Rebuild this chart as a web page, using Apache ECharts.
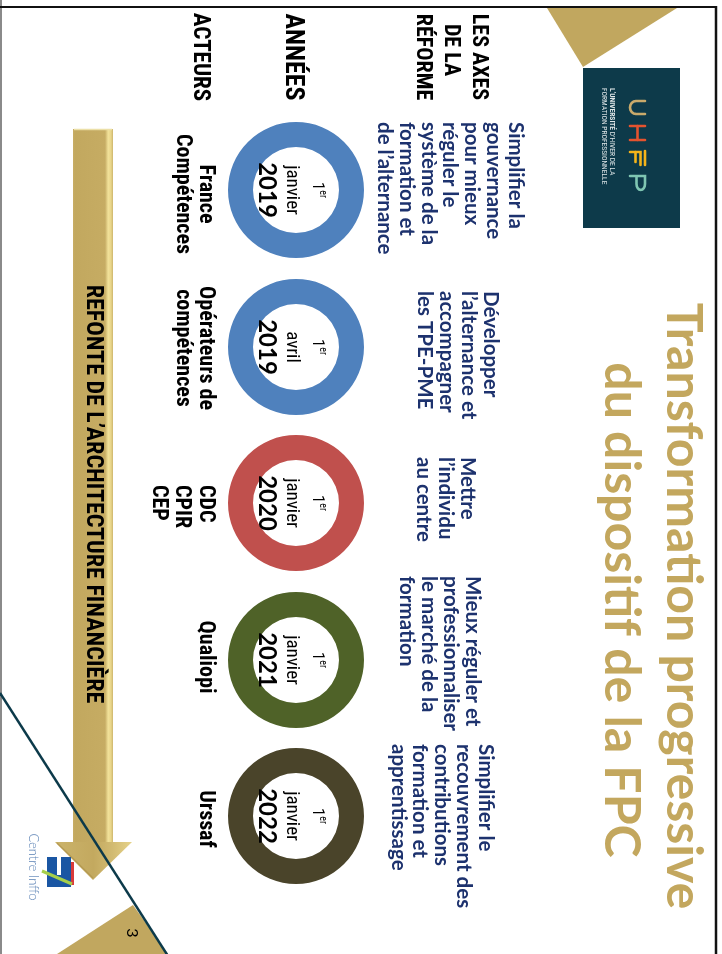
<!DOCTYPE html>
<html>
<head>
<meta charset="utf-8">
<script src="https://cdn.jsdelivr.net/npm/echarts@6/dist/echarts.min.js"></script>
<style>
html,body{margin:0;padding:0;background:#fff;}
#c{width:722px;height:954px;}
</style>
</head>
<body>
<div id="c"></div>
<script>
// ---- data ----
const rowHeaders = ['LES AXES\nDE LA\nRÉFORME', 'ANNÉES', 'ACTEURS'];
const axesTexts = [
  'Simplifier la\ngouvernance\npour mieux\nréguler le\nsystème de la\nformation et\nde l\u2019alternance',
  'Développer\nl\u2019alternance et\naccompagner\nles TPE-PME',
  'Mettre\nl\u2019individu\nau centre',
  'Mieux réguler et\nprofessionnaliser\nle marché de la\nformation',
  'Simplifier le\nrecouvrement des\ncontributions\nformation et\napprentissage'
];
const dayOrdinal = ['1', '1', '1', '1', '1'];
const months = ['janvier', 'avril', 'janvier', 'janvier', 'janvier'];
const years = ['2019', '2019', '2020', '2021', '2022'];
const ringValues = [100, 100, 100, 100, 100];
const actors = ['France\nCompétences', 'Opérateurs de\ncompétences', 'CDC\nCPIR\nCEP', 'Qualiopi', 'Urssaf'];
const titleLines = ['Transformation progressive', 'du dispositif de la FPC'];
const arrowText = 'REFONTE DE L\u2019ARCHITECTURE FINANCIÈRE';
const pageNumber = '3';

// ---- layout / style ----
const ringColors = ['#4f81bd', '#4f81bd', '#c0504d', '#4f6228', '#4a442a'];
const ringCx = 296;
const ringCy = [190, 347, 503, 660, 816];
const axesPos = [[526, 122], [501, 291], [478, 457], [483, 576], [496, 744]];
const actorPos = [[194, 194, 'center'], [194, 348, 'center'], [217, 485, 'left'], [205, 657, 'center'], [205, 819, 'center']];
const NAVY = '#1d326e';
const GOLD = '#c3a75e';
const COND = '"Liberation Sans Narrow", "Roboto Condensed", Lato, sans-serif';
const R = -Math.PI / 2;

function vtext(x, y, text, st, extra) {
  const style = Object.assign({
    text: text,
    fontFamily: 'Lato, sans-serif',
    fill: '#000'
  }, st);
  style.align = style.textAlign; style.verticalAlign = style.textVerticalAlign;
  return Object.assign({ type: 'text', x: x, y: y, rotation: R, silent: true, style: style, z: 10 }, extra || {});
}
function pl(points, color) {
  return { type: 'polyline', shape: { points: points }, style: { stroke: color, lineWidth: 2.6, fill: null, lineCap: 'round' }, silent: true };
}

const graphics = [];
// slide frame
graphics.push({ type: 'line', shape: { x1: 1, y1: 0, x2: 1, y2: 954 }, style: { stroke: '#8a8a8a', lineWidth: 2 }, silent: true });
graphics.push({ type: 'line', shape: { x1: 0, y1: 7, x2: 717, y2: 7 }, style: { stroke: '#111', lineWidth: 2 }, silent: true });
graphics.push({ type: 'line', shape: { x1: 716, y1: 6, x2: 716, y2: 954 }, style: { stroke: '#111', lineWidth: 2.5 }, silent: true });

// top-right gold triangle
graphics.push({ type: 'polygon', shape: { points: [[547, 8], [677, 8], [583, 67]] }, style: { fill: '#c1a75f' }, silent: true });
// UHFP logo block
graphics.push({ type: 'rect', shape: { x: 583, y: 68, width: 97, height: 160 }, style: { fill: '#0d3a4a' }, silent: true });
const uPts = [[1, 0], [1, 9]];
for (let k = 0; k <= 8; k++) { const a = Math.PI - k * Math.PI / 8; uPts.push([7.5 + 6.5 * Math.cos(a), 9 + 6 * Math.sin(a)]); }
uPts.push([14, 0]);
const pPts = [[76, 15], [76, 0], [84, 0]];
for (let k = 0; k <= 8; k++) { const a = -Math.PI / 2 + k * Math.PI / 8; pPts.push([84 + 6 * Math.cos(a), 4.25 + 4.25 * Math.sin(a)]); }
pPts.push([76, 8.5]);
graphics.push({
  type: 'group', x: 645, y: 100, rotation: R, silent: true, z: 10,
  children: [
    pl(uPts, '#c9aa6b'),
    pl([[26, 0], [26, 15]], '#e4532f'), pl([[40, 0], [40, 15]], '#e4532f'), pl([[26, 7.5], [40, 7.5]], '#e4532f'),
    pl([[51, 0], [65, 0]], '#f4b41a'), pl([[52, 15], [52, 4.5], [65, 4.5]], '#f4b41a'), pl([[52, 9.5], [62, 9.5]], '#f4b41a'),
    pl(pPts, '#7fc6b2')
  ]
});
graphics.push(vtext(612, 88, '{b|L\u2019UNIVERSITÉ} D\u2019HIVER DE LA', {
  fontSize: 7.5, fontFamily: COND, fill: '#dfe6e8', textAlign: 'left', textVerticalAlign: 'middle',
  rich: { b: { fontSize: 7.5, fontFamily: COND, fontWeight: 'bold', fill: '#dfe6e8' } }
}));
graphics.push(vtext(604, 88, 'FORMATION PROFESSIONNELLE', {
  fontSize: 7.5, fontFamily: COND, fill: '#dfe6e8', textAlign: 'left', textVerticalAlign: 'middle'
}));

// title
graphics.push(vtext(683, 606, titleLines[0], { fontSize: 50, fontWeight: 'bold', fill: GOLD, textAlign: 'center', textVerticalAlign: 'middle' }));
graphics.push(vtext(621, 610, titleLines[1], { fontSize: 50, fontWeight: 'bold', fill: GOLD, textAlign: 'center', textVerticalAlign: 'middle' }));

// row headers
const hdrLines = rowHeaders[0].split('\n');
const hdrX = [478, 450, 422];
const hdrY = [57, 50, 57];
hdrLines.forEach((t, i) => graphics.push(vtext(hdrX[i], hdrY[i], t, { fontSize: 22, fontWeight: 'bold', fontFamily: COND, textAlign: 'center', textVerticalAlign: 'middle' })));
graphics.push(vtext(292, 57, rowHeaders[1], { fontSize: 26, fontWeight: 'bold', fontFamily: COND, textAlign: 'center', textVerticalAlign: 'middle' }));
graphics.push(vtext(200, 57, rowHeaders[2], { fontSize: 23, fontWeight: 'bold', fontFamily: COND, textAlign: 'center', textVerticalAlign: 'middle' }));

// axes texts
axesTexts.forEach((t, i) => graphics.push(vtext(axesPos[i][0], axesPos[i][1], t, {
  fontSize: 20.5, fontWeight: 'bold', fill: NAVY, lineHeight: 21.7, textAlign: 'left', textVerticalAlign: 'top'
})));

// actors
actors.forEach((t, i) => {
  const p = actorPos[i];
  graphics.push(vtext(p[0], p[1], t, {
    fontSize: 22, fontWeight: 'bold', fontFamily: COND, lineHeight: 23.5,
    textAlign: p[2], textVerticalAlign: p[2] === 'left' ? 'top' : 'middle'
  }));
});

// arrow
const arrowGrad = new echarts.graphic.LinearGradient(0, 0, 1, 0, [
  { offset: 0, color: '#c8ae66' }, { offset: 0.05, color: '#c2a85f' },
  { offset: 0.8, color: '#c6ac63' }, { offset: 0.88, color: '#f2e29a' },
  { offset: 0.95, color: '#e8d58a' }, { offset: 1, color: '#cdb56c' }
]);
graphics.push({ type: 'rect', shape: { x: 73, y: 129, width: 40, height: 714 }, style: { fill: arrowGrad }, silent: true });
graphics.push({ type: 'line', shape: { x1: 74, y1: 129.5, x2: 112, y2: 129.5 }, style: { stroke: '#ece0a8', lineWidth: 1.5 }, silent: true });
const headGrad = new echarts.graphic.LinearGradient(0, 0, 1, 0, [
  { offset: 0, color: '#cbb36b' }, { offset: 0.5, color: '#c3a95f' }, { offset: 0.75, color: '#d2bb72' }, { offset: 1, color: '#e6d38a' }
]);
graphics.push({ type: 'polygon', shape: { points: [[55, 842], [132, 842], [93, 880]] }, style: { fill: headGrad }, silent: true });
graphics.push({ type: 'polyline', shape: { points: [[57, 843], [93, 878]] }, style: { stroke: '#b59a52', lineWidth: 1.2 }, silent: true });
graphics.push(vtext(93, 494, arrowText, { fontSize: 24, fontWeight: 'bold', fontFamily: COND, textAlign: 'center', textVerticalAlign: 'middle' }));

// bottom gold triangle + diagonal line
graphics.push({ type: 'polygon', shape: { points: [[57, 954], [133, 905], [168, 954]] }, style: { fill: '#c1a75f' }, silent: true });
graphics.push({ type: 'line', shape: { x1: 0, y1: 693, x2: 168, y2: 956 }, style: { stroke: '#0c3a4a', lineWidth: 2.5 }, silent: true, z: 5 });
graphics.push(vtext(132, 933, pageNumber, { fontSize: 16, fontFamily: 'Lato, sans-serif', textAlign: 'center', textVerticalAlign: 'middle' }));

// Centre Inffo logo
graphics.push({ type: 'rect', shape: { x: 47, y: 857, width: 24, height: 30 }, style: { fill: '#1a56a3' }, silent: true, z: 6 });
graphics.push({ type: 'rect', shape: { x: 57, y: 857, width: 4, height: 18 }, style: { fill: '#ffffff' }, silent: true, z: 7 });
graphics.push({ type: 'rect', shape: { x: 71, y: 862, width: 3, height: 23 }, style: { fill: '#d93a3a' }, silent: true, z: 6 });
graphics.push({ type: 'line', shape: { x1: 42, y1: 871, x2: 72, y2: 884 }, style: { stroke: '#a6cf4a', lineWidth: 3 }, silent: true, z: 8 });
graphics.push(vtext(33, 867, 'Centre Inffo', { fontSize: 13, fontFamily: 'Lato, sans-serif', fontWeight: 300, fill: '#5b82b5', textAlign: 'center', textVerticalAlign: 'middle' }));

const series = ringValues.map((v, i) => ({
  type: 'pie',
  center: [ringCx, ringCy[i]],
  radius: [43, 68],
  silent: true,
  animation: false,
  emphasis: { disabled: true },
  labelLine: { show: false },
  itemStyle: { color: ringColors[i] },
  label: {
    show: true,
    position: 'center',
    rotate: -90,
    padding: [8, 0, 0, 0],
    formatter: '{one|' + dayOrdinal[i] + '}{sup|er}\n{m|' + months[i] + '}\n{y|' + years[i] + '}',
    rich: {
      one: { fontSize: 17, fontFamily: COND, color: '#000', lineHeight: 25 },
      sup: { fontSize: 10, fontFamily: COND, color: '#000', lineHeight: 25, verticalAlign: 'top', padding: [2, 0, 0, 0] },
      m: { fontSize: 19, fontFamily: COND, color: '#000', lineHeight: 25 },
      y: { fontSize: 24, fontFamily: 'Lato, sans-serif', fontWeight: 'bold', color: '#000', lineHeight: 25 }
    }
  },
  data: [{ value: v, name: years[i] }]
}));

const chart = echarts.init(document.getElementById('c'), null, { renderer: 'canvas' });
chart.setOption({
  backgroundColor: '#ffffff',
  animation: false,
  graphic: { elements: graphics },
  series: series
});
</script>
</body>
</html>
